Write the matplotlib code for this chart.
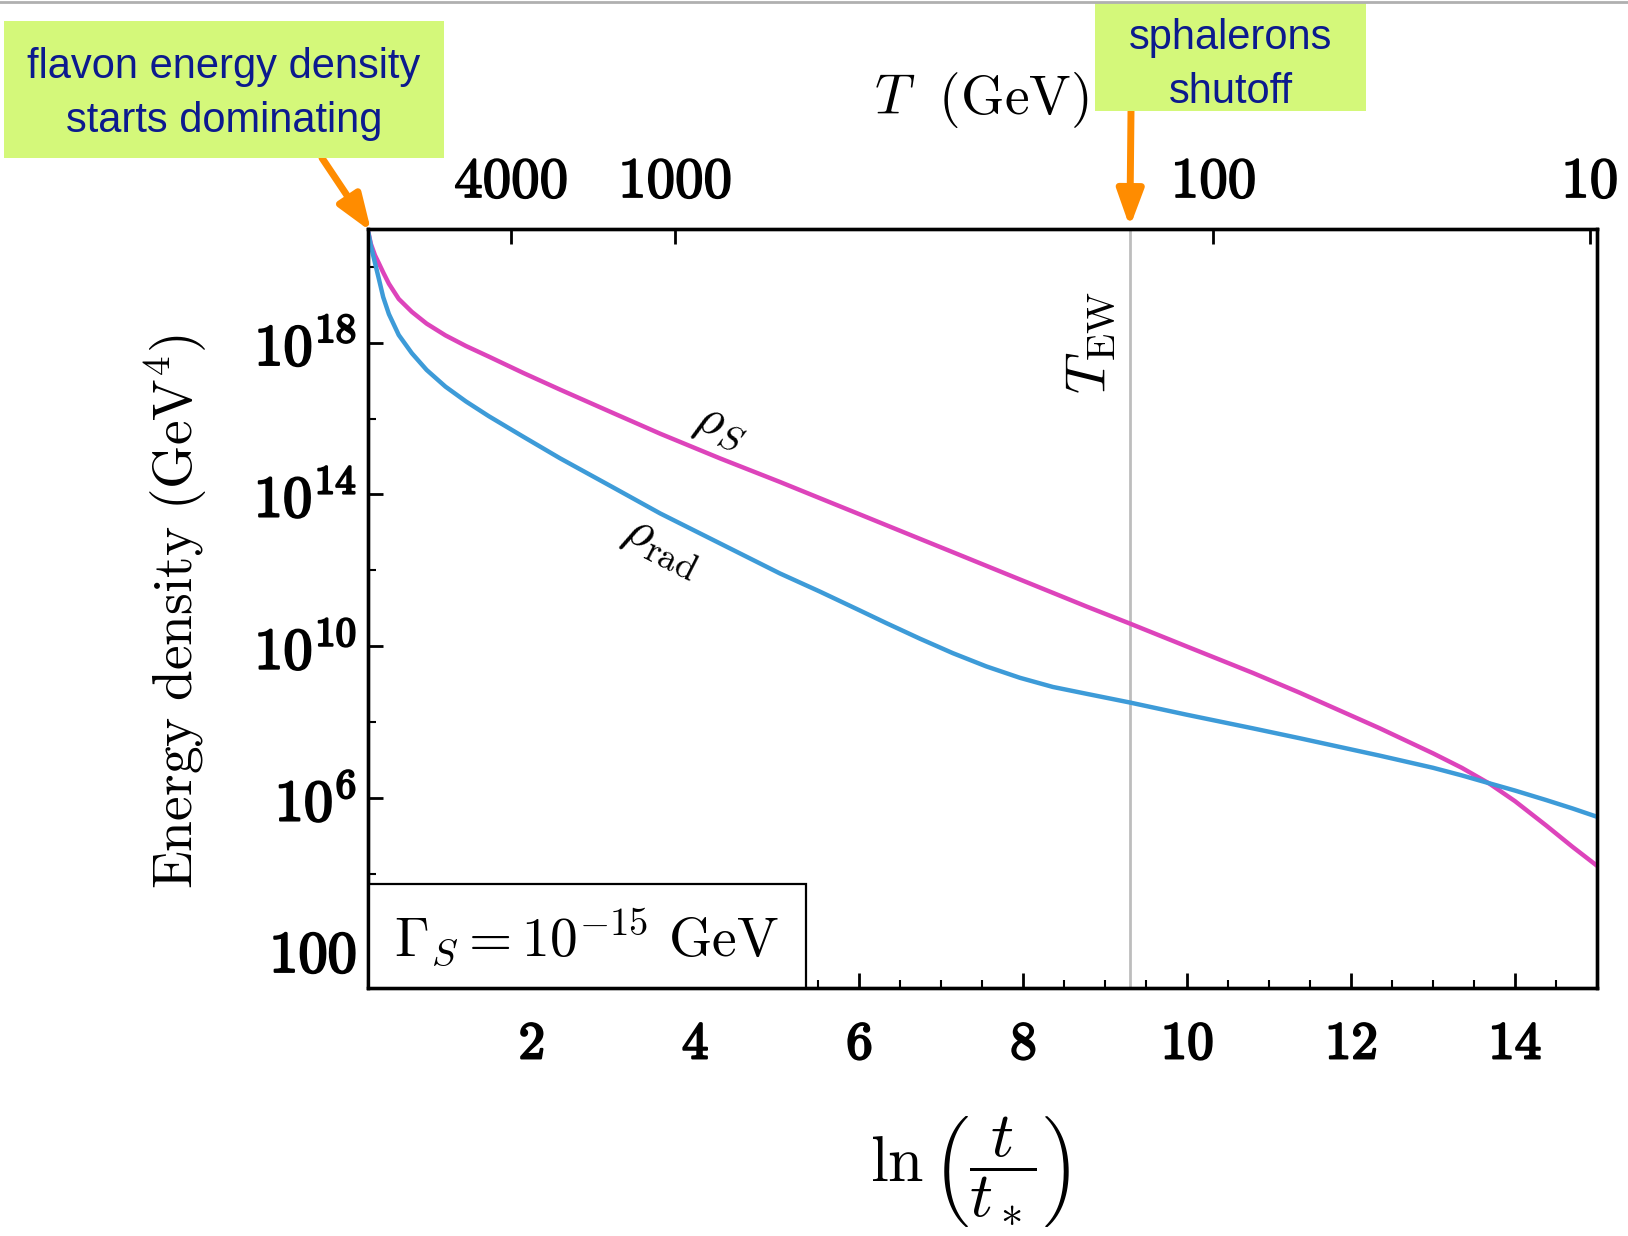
import numpy as np
import matplotlib.pyplot as plt
import matplotlib.patheffects as pe
from matplotlib.patches import Rectangle
from matplotlib.lines import Line2D
from matplotlib.ticker import MultipleLocator, NullFormatter, NullLocator

plt.rcParams['mathtext.fontset'] = 'cm'
plt.rcParams['font.family'] = ['DejaVu Serif']

# ln(t/t*) and log10 of the energy densities in GeV^4
ln_t = [0.0, 0.04, 0.09, 0.135, 0.19, 0.26, 0.38, 0.54, 0.72, 0.95, 1.2, 1.48, 1.9, 2.35,
        3.0, 3.57, 4.3, 5.03, 5.52, 6.0, 6.33, 6.74, 7.14, 7.55, 7.96, 8.36, 8.77, 9.3,
        9.99, 10.8, 11.37, 12.35, 13.0, 13.35, 13.69, 14.0, 14.38, 14.7, 15.0]
log_rho_s = [21.0, 20.6, 20.3, 20.1, 19.85, 19.55, 19.15, 18.81, 18.5, 18.19, 17.91, 17.63, 17.2, 16.76,
             16.14, 15.6, 14.95, 14.33, 13.9, 13.48, 13.19, 12.83, 12.48, 12.12, 11.76, 11.41, 11.05, 10.6,
             10.0, 9.3, 8.78, 7.84, 7.18, 6.8, 6.38, 5.92, 5.28, 4.72, 4.22]
log_rho_rad = [21.0, 20.55, 20.1, 19.7, 19.2, 18.75, 18.2, 17.72, 17.28, 16.84, 16.45, 16.06, 15.52, 14.95,
               14.18, 13.5, 12.71, 11.92, 11.44, 10.95, 10.61, 10.2, 9.82, 9.47, 9.17, 8.93, 8.75, 8.52,
               8.2, 7.84, 7.58, 7.12, 6.8, 6.6, 6.39, 6.2, 5.95, 5.73, 5.51]

# temperature scale on the top axis
T_tick_pos = [1.75, 3.75, 10.32, 14.91]
T_tick_labels = ['4000', '1000', '100', '10']

ln_t_ew = 9.3  # electroweak crossover

x_major = [2, 4, 6, 8, 10, 12, 14]
y_major = [1e2, 1e6, 1e10, 1e14, 1e18]
y_major_labels = ['100', '10^{6}', '10^{10}', '10^{14}', '10^{18}']
y_minor = [1e4, 1e8, 1e12, 1e16, 1e20]

magenta = '#dd44bb'
blue = '#3d9bd8'
orange = '#ff8c00'
lime = '#d4f87a'
navy = '#0c1a8e'

W, H = 1628, 1236
fig = plt.figure(figsize=(W / 100, H / 100), dpi=100)


def fx(px):
    return px / W


def fy(py):
    return 1 - py / H


ax = fig.add_axes([fx(367.6), fy(988), fx(1597) - fx(367.6), fy(228.7) - fy(988)])

ax.axvline(ln_t_ew, color='#bdbdbd', lw=2, zorder=1)
ax.semilogy(ln_t, 10 ** np.array(log_rho_s), color=magenta, lw=3.2, solid_joinstyle='round', zorder=3)
ax.semilogy(ln_t, 10 ** np.array(log_rho_rad), color=blue, lw=3.2, solid_joinstyle='round', zorder=3)
ax.set_xlim(0, 15)
ax.set_ylim(1e1, 1e21)

for s in ax.spines.values():
    s.set_linewidth(2.4)

ax.set_xticks(x_major, [r'$\mathbf{%d}$' % v for v in x_major])
ax.xaxis.set_minor_locator(MultipleLocator(0.5))
ax.set_yticks(y_major, [r'$\mathbf{%s}$' % s for s in y_major_labels])
ax.set_yticks(y_minor, minor=True)
ax.yaxis.set_minor_formatter(NullFormatter())
ax.tick_params(which='major', direction='in', length=11, width=2)
ax.tick_params(which='minor', direction='in', length=6, width=1.5)
ax.tick_params(axis='x', pad=22, labelsize=38)
ax.tick_params(axis='y', pad=8, labelsize=42)
ax.tick_params(top=False, right=False, which='both')

# heavier digits for the tick labels
bold = [pe.withStroke(linewidth=1.6, foreground='black')]
for lab in ax.get_xticklabels() + ax.get_yticklabels():
    lab.set_path_effects(bold)

ax_top = ax.twiny()
ax_top.set_xlim(0, 15)
ax_top.set_xticks(T_tick_pos, [r'$\mathrm{%s}$' % s for s in T_tick_labels])
ax_top.xaxis.set_minor_locator(NullLocator())
ax_top.tick_params(direction='in', length=11, width=2, labelsize=41, pad=14)
for s in ax_top.spines.values():
    s.set_linewidth(2.4)
for lab in ax_top.get_xticklabels():
    lab.set_path_effects([pe.withStroke(linewidth=1.2, foreground='black')])

# curve and line labels
ax.text(4.32, 10 ** 15.82, r'$\rho_S$', rotation=-22, fontsize=38, ha='center', va='center')
ax.text(3.61, 10 ** 12.67, r'$\rho_{\mathrm{rad}}$', rotation=-27, fontsize=38, ha='center', va='center')
ax.text(8.81, 10 ** 17.99, r'$T_{\mathrm{EW}}$', rotation=90, fontsize=41, ha='center', va='center')

# decay width box
ax.add_patch(Rectangle((0, 0), 0.357, 0.1375, transform=ax.transAxes, facecolor='white',
                       edgecolor='black', lw=1.6, zorder=4))
ax.text(0.178, 0.067, r'$\Gamma_S = 10^{-15}\ \mathrm{GeV}$', transform=ax.transAxes,
        fontsize=40, ha='center', va='center', zorder=5)

# axis titles
fig.text(fx(981), fy(100), r'$T\ \ \mathrm{(GeV)}$', fontsize=40, ha='center', va='center')
fig.text(fx(176), fy(612), r'$\mathrm{Energy\ density\ (GeV^{4})}$', fontsize=40,
         rotation=90, ha='center', va='center')
fig.text(fx(970), fy(1172), r'$\ln\left(\dfrac{t}{t_*}\right)$', fontsize=46, ha='center', va='center')

# callout boxes
fig.add_artist(Rectangle((fx(4), fy(158)), fx(444) - fx(4), fy(21) - fy(158),
                         transform=fig.transFigure, facecolor=lime, edgecolor='none'))
fig.text(fx(224), fy(94), 'flavon energy density\nstarts dominating', ha='center', va='center',
         fontsize=30, color=navy, family='Liberation Sans', linespacing=1.45)
fig.add_artist(Rectangle((fx(1095), fy(111)), fx(1366) - fx(1095), fy(2) - fy(111),
                         transform=fig.transFigure, facecolor=lime, edgecolor='none'))
fig.text(fx(1231), fy(65), 'sphalerons\nshutoff', ha='center', va='center',
         fontsize=30, color=navy, family='Liberation Sans', linespacing=1.45)

arrow = dict(arrowstyle='-|>,head_length=1.1,head_width=0.4', color=orange, lw=5,
             shrinkA=0, shrinkB=0, mutation_scale=20)
ax_top.annotate('', xy=(0.003, 0.996), xycoords=ax.transAxes, xytext=(fx(322), fy(158)),
                textcoords='figure fraction', arrowprops=arrow, annotation_clip=False)
ax_top.annotate('', xy=(ln_t_ew, 1.002), xycoords=('data', 'axes fraction'), xytext=(fx(1131), fy(111)),
                textcoords='figure fraction', arrowprops=arrow, annotation_clip=False)

fig.add_artist(Line2D([0, 1], [fy(1.5), fy(1.5)], transform=fig.transFigure, color='#b0b0b0', lw=2))

fig.savefig('out.png', dpi=100)
